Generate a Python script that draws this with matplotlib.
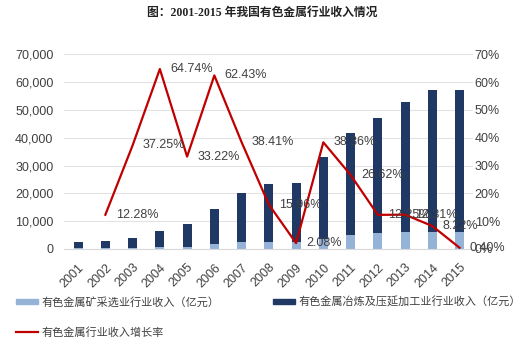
import matplotlib
matplotlib.use("Agg")
import matplotlib.pyplot as plt
from matplotlib.patches import Patch
from matplotlib.lines import Line2D
from matplotlib.ticker import FuncFormatter, MultipleLocator

plt.rcParams['font.family'] = ['Liberation Sans', 'Noto Sans CJK SC', 'DejaVu Sans']

years = ['2001', '2002', '2003', '2004', '2005', '2006', '2007', '2008',
         '2009', '2010', '2011', '2012', '2013', '2014', '2015']
mining = [300, 350, 450, 600, 850, 1700, 2300, 2600, 2400, 3500, 5000, 5600, 6000, 6200, 6200]
total = [2650, 2900, 3850, 6500, 8900, 14300, 20100, 23500, 23700, 33100, 41700, 47000, 52800, 57100, 57200]
smelting = [t - m for t, m in zip(total, mining)]
growth_years = years[1:]
growth = [12.28, 37.25, 64.74, 33.22, 62.43, 38.41, 15.96, 2.08, 38.36, 26.62, 12.25, 12.31, 8.22, 0.40]

title = '图：2001-2015 年我国有色金属行业收入情况'
lbl_mining = '有色金属矿采选业行业收入（亿元）'
lbl_smelting = '有色金属冶炼及压延加工业行业收入（亿元）'
lbl_growth = '有色金属行业收入增长率'

c_light = '#95B3D7'
c_dark = '#1F3864'
c_red = '#C00000'
c_text = '#404040'

fig = plt.figure(figsize=(5.2, 3.4), dpi=100)
ax = fig.add_axes([0.124, 0.268, 0.786, 0.572])
x = list(range(len(years)))
ax.bar(x, mining, width=0.33, color=c_light, zorder=2)
ax.bar(x, smelting, width=0.33, bottom=mining, color=c_dark, zorder=2)
ax.set_ylim(0, 70000)
ax.set_xlim(-0.5, len(years) - 0.5)
ax.yaxis.set_major_locator(MultipleLocator(10000))
ax.yaxis.set_major_formatter(FuncFormatter(lambda v, p: f'{int(v):,}'))
ax.grid(axis='y', color='#E3E3E3', linewidth=0.8, zorder=0)
ax.set_axisbelow(True)
for s in ['top', 'left', 'right']:
    ax.spines[s].set_visible(False)
ax.spines['bottom'].set_color('#D9D9D9')
ax.tick_params(axis='both', length=0, labelsize=9, colors=c_text)
ax.tick_params(axis='y', pad=8)
ax.set_xticks(x)
ax.set_xticklabels(years, rotation=45, ha='right', rotation_mode='anchor')
ax.tick_params(axis='x', pad=9)

ax2 = ax.twinx()
gx = [years.index(y) for y in growth_years]
ax2.plot(gx, growth, color=c_red, linewidth=1.6, zorder=3)
ax2.set_ylim(0, 70)
ax2.yaxis.set_major_locator(MultipleLocator(10))
ax2.yaxis.set_major_formatter(FuncFormatter(lambda v, p: f'{int(v)}%'))
for s in ['top', 'left', 'right', 'bottom']:
    ax2.spines[s].set_visible(False)
ax2.tick_params(axis='y', length=0, labelsize=9, colors=c_text, pad=1)
for xi, g in zip(gx, growth):
    ax2.annotate(f'{g:.2f}%', (xi, g), xytext=(7.5, 0), textcoords='offset points',
                 ha='left', va='center', fontsize=9, color=c_text, zorder=4)

fig.text(0.504, 0.962, title, ha='center', va='center', fontsize=8.5, fontweight='bold',
         family=['Liberation Serif', 'Noto Sans CJK SC'], color='#222222')

handles = [Patch(color=c_light), Line2D([], [], color=c_red, linewidth=1.6), Patch(color=c_dark)]
labels = [lbl_mining, lbl_growth, lbl_smelting]
fig.legend(handles, labels, ncol=2, loc='upper left', bbox_to_anchor=(0.031, 0.128),
           frameon=False, fontsize=8, handlelength=2.0, handleheight=0.35, handletextpad=0.3,
           columnspacing=4.8, labelspacing=1.75, borderpad=0, borderaxespad=0,
           labelcolor=c_text)

fig.savefig('out.png', dpi=100)
